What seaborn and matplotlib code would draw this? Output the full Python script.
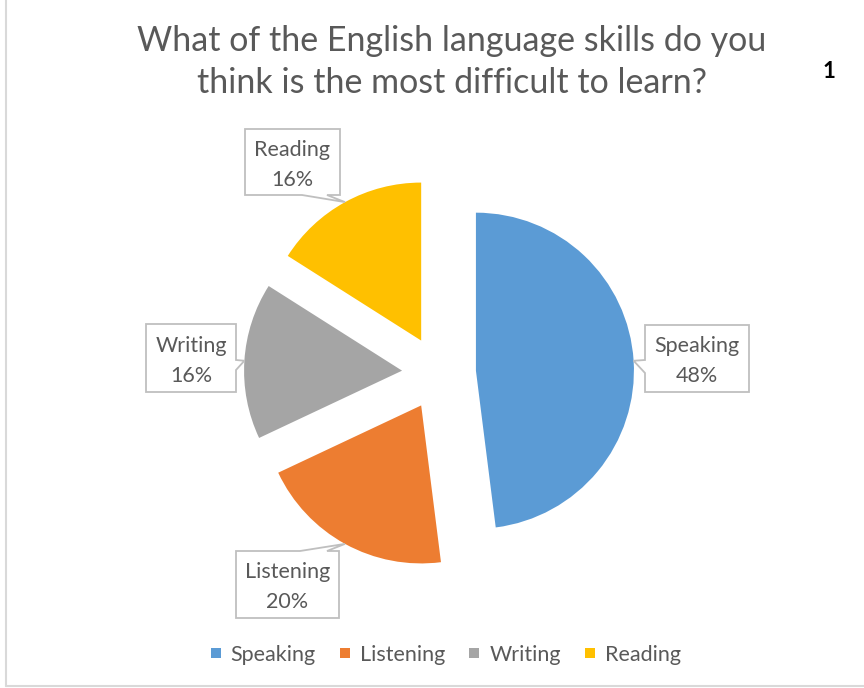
import matplotlib
matplotlib.use("Agg")
import matplotlib.pyplot as plt
import seaborn as sns
import numpy as np
from matplotlib.patches import Polygon
from matplotlib.lines import Line2D

# ---- data ----
categories = ["Speaking", "Listening", "Writing", "Reading"]
values = [48, 20, 16, 16]
colors = ["#5B9BD5", "#ED7D31", "#A5A5A5", "#FFC000"]
title = "What of the English language skills do you\nthink is the most difficult to learn?"

sns.set_theme(style="white")
plt.rcParams['font.family'] = ['Lato', 'DejaVu Sans']
palette = sns.color_palette(colors)

W, H = 864, 688
fig = plt.figure(figsize=(W / 100, H / 100), dpi=100)
ax = fig.add_axes([0, 0, 1, 1])

def Y(y):
    return H - y

R = 158
wedges, _ = ax.pie(values, colors=palette, startangle=90, counterclock=False,
                   radius=R, center=(439, Y(373)), explode=[37] * 4,
                   wedgeprops=dict(linewidth=0))
ax.set_xlim(0, W)
ax.set_ylim(0, H)
ax.set_aspect('equal')
ax.axis('off')

txt_color = "#595959"
ax.text(452, Y(62), title, ha='center', va='center', fontsize=24.5,
        color=txt_color, linespacing=1.38)
ax.text(829, Y(72), "1", ha='center', va='center', fontsize=16,
        fontweight='bold', color='black')

# callout boxes (layout): x0, y0, x1, y1, side, base start, base end
boxes = {
    "Reading": (245, 129, 340, 195, 'bottom', 302, 327),
    "Writing": (146, 324, 236, 392, 'right', 360, 370),
    "Speaking": (645, 325, 749, 392, 'left', 360, 373),
    "Listening": (236, 551, 339, 618, 'top', 300, 327),
}

for w, cat, val in zip(wedges, categories, values):
    th = np.deg2rad((w.theta1 + w.theta2) / 2)
    cx, cy = w.center
    tip = (cx + w.r * np.cos(th), cy + w.r * np.sin(th))
    x0, y0, x1, y1, side, b0, b1 = boxes[cat]
    X0, X1, Y0, Y1 = x0, x1, Y(y0), Y(y1)
    if side == 'bottom':
        pts = [(X0, Y0), (X1, Y0), (X1, Y1), (b1, Y1), tip, (b0, Y1), (X0, Y1)]
    elif side == 'top':
        pts = [(X0, Y0), (b0, Y0), tip, (b1, Y0), (X1, Y0), (X1, Y1), (X0, Y1)]
    elif side == 'right':
        pts = [(X0, Y0), (X1, Y0), (X1, Y(b0)), tip, (X1, Y(b1)), (X1, Y1), (X0, Y1)]
    else:
        pts = [(X0, Y0), (X1, Y0), (X1, Y1), (X0, Y1), (X0, Y(b1)), tip, (X0, Y(b0))]
    ax.add_patch(Polygon(pts, closed=True, facecolor='white', edgecolor='#BFBFBF',
                         linewidth=1.3, zorder=3))
    mx = (x0 + x1) / 2
    my = (y0 + y1) / 2
    ax.text(mx, Y(my - 12), cat, ha='center', va='center', fontsize=15.5,
            color=txt_color, zorder=4)
    ax.text(mx, Y(my + 18), f"{val}%", ha='center', va='center', fontsize=15.5,
            color=txt_color, zorder=4)

handles = [Line2D([], [], marker='s', linestyle='none', markersize=7,
                  markerfacecolor=c, markeredgewidth=0) for c in palette]
ax.legend(handles, categories, loc='center', bbox_to_anchor=(445 / W, 1 - 655 / H),
          ncol=4, frameon=False, fontsize=15.5, handlelength=0.6, handletextpad=0.4,
          columnspacing=1.05, labelcolor=txt_color)

# chart border
ax.plot([6, 6], [Y(0), Y(686)], color='#D9D9D9', linewidth=1.5, clip_on=False)
ax.plot([6, W], [Y(686), Y(686)], color='#D9D9D9', linewidth=1.5, clip_on=False)

fig.savefig("out.png", dpi=100)
